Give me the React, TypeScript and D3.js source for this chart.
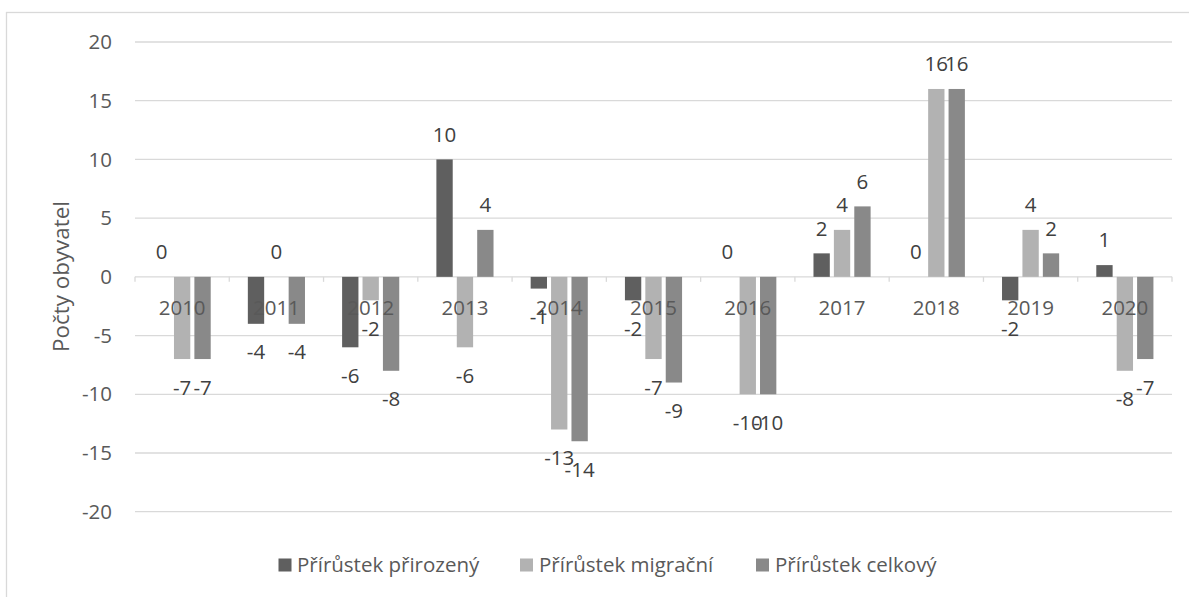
import React from "react";
import * as d3 from "d3";

const years = ["2010","2011","2012","2013","2014","2015","2016","2017","2018","2019","2020"];
const prirozeny = [0,-4,-6,10,-1,-2,0,2,0,-2,1];
const migracni = [-7,0,-2,-6,-13,-7,-10,4,16,4,-8];
const celkovy = [-7,-4,-8,4,-14,-9,-10,6,16,2,-7];
const seriesNames = ["Přírůstek přirozený","Přírůstek migrační","Přírůstek celkový"];
const seriesColors = ["#5f5f5f","#b2b2b2","#898989"];
const yTicks = [20,15,10,5,0,-5,-10,-15,-20];
const yTitle = "Počty obyvatel";

const W = 1189, H = 597;
const FONT = "'Open Sans', 'Noto Sans', sans-serif";
const FS = 20.5;

export default function App() {
  const allSeries = [prirozeny, migracni, celkovy];
  const x = d3.scaleBand<string>().domain(years).range([135, 1172]).padding(0);
  const xs = d3.scaleBand<number>().domain([0,1,2]).range([0, x.bandwidth()]).paddingInner(0.2).paddingOuter(0.91);
  const y = d3.scaleLinear().domain([-20, 20]).range([511.7, 42]);
  const y0 = y(0);

  const legendItems = [
    { sx: 278.5, tx: 297 },
    { sx: 520, tx: 539 },
    { sx: 756, tx: 775 },
  ];

  return (
    <svg width={W} height={H} style={{ position: "absolute", left: 0, top: 0, background: "#fff" }} fontFamily={FONT}>
      <rect x={0} y={0} width={W} height={H} fill="#fff" />
      <rect x={6.5} y={12.5} width={1190} height={600} fill="none" stroke="#d9d9d9" strokeWidth={1.3} />
      {yTicks.map(t => (
        <g key={t}>
          <line x1={135} x2={1172} y1={y(t)} y2={y(t)} stroke="#d9d9d9" strokeWidth={1.3} />
          <text x={112} y={y(t)} dy="0.35em" textAnchor="end" fontSize={FS} fill="#595959">{t}</text>
        </g>
      ))}
      {years.map((yr) => (
        <line key={"tk"+yr} x1={x(yr)!} x2={x(yr)!} y1={y0} y2={y0 + 5} stroke="#d9d9d9" strokeWidth={1.3} />
      ))}
      <line x1={1172} x2={1172} y1={y0} y2={y0 + 5} stroke="#d9d9d9" strokeWidth={1.3} />
      {years.map((yr, i) => (
        <g key={"b"+yr} transform={`translate(${x(yr)},0)`}>
          {allSeries.map((s, k) => {
            const v = s[i];
            const top = Math.min(y(v), y0);
            const h = Math.abs(y(v) - y0);
            return <rect key={k} x={xs(k)!} y={top} width={xs.bandwidth()} height={h} fill={seriesColors[k]} />;
          })}
        </g>
      ))}
      {years.map(yr => (
        <text key={"c"+yr} x={x(yr)! + x.bandwidth()/2} y={308} dy="0.35em" textAnchor="middle" fontSize={FS} fill="#595959">{yr}</text>
      ))}
      {years.map((yr, i) => (
        <g key={"l"+yr}>
          {allSeries.map((s, k) => {
            const v = s[i];
            const cx = x(yr)! + xs(k)! + xs.bandwidth()/2;
            const cy = v >= 0 ? y(v) - 25 : y(v) + 28.5;
            return <text key={k} x={cx} y={cy} dy="0.35em" textAnchor="middle" fontSize={FS} fill="#404040">{v}</text>;
          })}
        </g>
      ))}
      <text transform={`translate(61,${276.5}) rotate(-90)`} textAnchor="middle" dy="0.35em" fontSize={22.4} fill="#595959">{yTitle}</text>
      {seriesNames.map((n, k) => (
        <g key={"lg"+k}>
          <rect x={legendItems[k].sx} y={558.5} width={13} height={13} fill={seriesColors[k]} />
          <text x={legendItems[k].tx} y={565} dy="0.35em" fontSize={FS} fill="#595959">{n}</text>
        </g>
      ))}
    </svg>
  );
}
